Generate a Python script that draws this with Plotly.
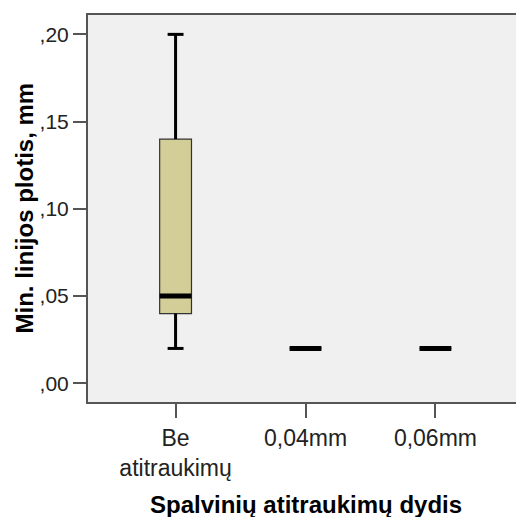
import plotly.graph_objects as go

# ---- data ----
categories = ["Be<br>atitraukimų", "0,04mm", "0,06mm"]
lower_whisker = [0.02, 0.02, 0.02]
q1_values = [0.04, 0.02, 0.02]
median_values = [0.05, 0.02, 0.02]
q3_values = [0.14, 0.02, 0.02]
upper_whisker = [0.20, 0.02, 0.02]
y_tick_values = [0.00, 0.05, 0.10, 0.15, 0.20]
y_tick_labels = [",00", ",05", ",10", ",15", ",20"]

x_title = "Spalvinių atitraukimų dydis"
y_title = "Min. linijos plotis, mm"

# ---- style ----
BOX_W = 0.245
CAP_HALF = BOX_W / 4
FILL = "#d3ce98"
BG = "#f0f0f0"
AX = "#555555"
FONT = "Liberation Sans, Arial, sans-serif"

xpos = list(range(len(categories)))

fig = go.Figure()

# whiskers (drawn from the data arrays)
wx, wy = [], []
for i, x in enumerate(xpos):
    if upper_whisker[i] > q3_values[i]:
        wx += [x, x, None, x - CAP_HALF, x + CAP_HALF, None]
        wy += [q3_values[i], upper_whisker[i], None, upper_whisker[i], upper_whisker[i], None]
    if lower_whisker[i] < q1_values[i]:
        wx += [x, x, None, x - CAP_HALF, x + CAP_HALF, None]
        wy += [q1_values[i], lower_whisker[i], None, lower_whisker[i], lower_whisker[i], None]
fig.add_trace(go.Scatter(x=wx, y=wy, mode="lines",
                         line=dict(color="black", width=3),
                         hoverinfo="skip", showlegend=False))

# boxes
fig.add_trace(go.Box(
    x=xpos, q1=q1_values, median=median_values, q3=q3_values,
    lowerfence=q1_values, upperfence=q3_values,
    width=BOX_W, fillcolor=FILL,
    line=dict(color="#333333", width=1.2),
    whiskerwidth=0, showlegend=False, hoverinfo="skip",
))

# thick median lines
mx, my = [], []
for i, x in enumerate(xpos):
    mx += [x - BOX_W / 2, x + BOX_W / 2, None]
    my += [median_values[i], median_values[i], None]
fig.add_trace(go.Scatter(x=mx, y=my, mode="lines",
                         line=dict(color="black", width=5),
                         hoverinfo="skip", showlegend=False))

fig.update_layout(
    width=516, height=517,
    margin=dict(l=88, r=0, t=15, b=115),
    paper_bgcolor="white", plot_bgcolor=BG,
    font=dict(family=FONT, size=21, color="#222222"),
    xaxis=dict(
        range=[-0.674, 2.62], tickmode="array", tickvals=xpos, ticktext=categories,
        showgrid=False, zeroline=False, showline=True, linecolor=AX, linewidth=2,
        mirror=True, ticks="outside", ticklen=14, tickwidth=2, tickcolor=AX,
        tickfont=dict(size=23),
    ),
    yaxis=dict(
        range=[-0.0107, 0.2111], tickmode="array", tickvals=y_tick_values,
        ticktext=y_tick_labels, showgrid=False, zeroline=False, showline=True,
        linecolor=AX, linewidth=2, ticks="outside", ticklen=13, tickwidth=2,
        tickcolor=AX, tickfont=dict(size=21),
    ),
    annotations=[
        dict(text="<b>" + y_title + "</b>", xref="paper", yref="paper",
             x=(24 - 88) / 428, y=0.5, xanchor="center", yanchor="middle",
             textangle=-90, showarrow=False, font=dict(size=24, color="black")),
        dict(text="<b>" + x_title + "</b>", xref="x", yref="paper",
             x=1, y=(402 - 505) / 387, xanchor="center", yanchor="middle",
             showarrow=False, font=dict(size=24, color="black")),
    ],
)

fig.write_html("out.html")
